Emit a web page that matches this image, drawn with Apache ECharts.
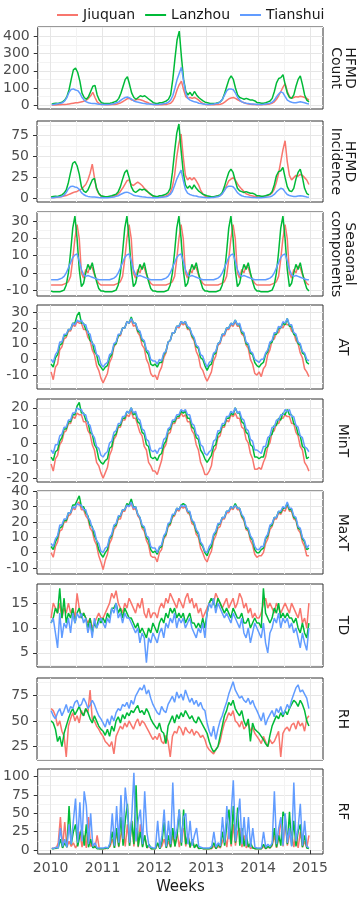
<!DOCTYPE html>
<html>
<head>
<meta charset="utf-8">
<script src="https://cdn.jsdelivr.net/npm/echarts@6/dist/echarts.min.js"></script>
<style>
html,body{margin:0;padding:0;background:#fff;}
#chart{width:358px;height:898px;}
</style>
</head>
<body>
<div id="chart"></div>
<script>
const cities = ["Jiuquan", "Lanzhou", "Tianshui"];
const cityColors = ["#F8766D", "#00BA38", "#619CFF"];

// weekly series at half-month steps
const semiX = [];
for (let i = 0; i < 120; i++) semiX.push(2010 + (i + 0.5) / 24);

const yearTicks = [2010, 2011, 2012, 2013, 2014, 2015];
const halfYears = [2010.5, 2011.5, 2012.5, 2013.5, 2014.5];

// HFMD count
const countJiuquan = [
  2,2,2,3,3,4,5,6,8,10,12,14,15,18,20,25,30,40,55,75,45,20,10,5,
  4,3,3,3,4,5,6,10,15,22,30,38,40,30,28,32,35,32,28,22,18,12,8,5,
  3,3,3,3,4,5,8,12,25,50,90,120,140,90,50,40,45,40,45,38,30,18,10,5,
  3,3,3,3,4,5,6,10,18,28,38,42,45,40,32,25,20,15,10,8,6,5,4,3,
  3,3,4,5,6,8,12,20,35,55,80,105,125,80,50,40,45,50,48,52,50,45,40,30];
const countLanzhou = [
  8,10,12,10,15,20,30,50,90,150,205,215,190,140,70,45,35,50,80,110,115,60,30,15,
  12,10,10,12,15,20,25,40,70,110,150,165,120,70,45,35,45,55,50,55,45,35,25,15,
  12,10,15,15,20,25,35,60,150,270,380,430,280,150,80,60,75,55,80,60,45,35,25,18,
  15,12,10,10,12,15,20,35,70,110,150,170,150,100,60,45,40,35,40,35,30,30,25,15,
  15,12,12,15,20,25,40,80,130,155,160,178,120,70,45,40,60,110,150,170,120,60,30,20];
const countTianshui = [
  5,5,8,10,12,15,25,45,75,92,95,88,85,70,45,30,20,15,12,10,10,8,6,5,
  5,5,5,6,8,10,15,20,30,38,45,48,42,35,25,20,18,15,12,10,8,7,6,5,
  5,5,6,8,10,12,18,30,55,100,150,185,220,140,70,40,30,25,20,18,12,10,8,6,
  5,5,6,7,10,12,20,35,60,85,95,95,90,70,45,30,20,15,12,10,8,7,6,5,
  5,5,6,8,10,12,18,30,50,65,78,72,50,30,22,18,15,15,18,20,18,15,10,8];

// HFMD incidence
const incJiuquan = [
  1.1,1.1,1.1,1.7,1.7,2.2,2.8,3.3,4.4,5.5,6.6,7.7,8.3,9.9,11,13.8,16.5,22,30,41,25,11,5.5,2.8,
  2.2,1.7,1.7,1.7,2.2,2.8,3.3,5.5,8.3,12,16.5,21,22,16.5,15.4,17.6,19.3,17.6,15.4,12,9.9,6.6,4.4,2.8,
  1.7,1.7,1.7,1.7,2.2,2.8,4.4,6.6,13.8,27.5,49.5,66,77,49.5,27.5,22,24.8,22,24.8,21,16.5,9.9,5.5,2.8,
  1.7,1.7,1.7,1.7,2.2,2.8,3.3,5.5,9.9,15.4,21,23,24.8,22,17.6,13.8,11,8.3,5.5,4.4,3.3,2.8,2.2,1.7,
  1.7,1.7,2.2,2.8,3.3,4.4,6.6,11,19.3,30,44,58,69,44,27.5,22,24.8,27.5,26.4,28.6,27.5,24.8,22,16.5];
const incLanzhou = [
  1.6,2.1,2.5,2.1,3.1,4.1,6.2,10,19,31,42,44,39,29,14,9,7,10,16,22,24,12,6,3,
  2.5,2,2,2.5,3,4,5,8,14,23,31,34,25,14,9,7,9,11,10,11,9,7,5,3,
  2.5,2,3,3,4,5,7,12,31,56,78,89,58,31,16,12,15,11,16,12,9,7,5,4,
  3,2.5,2,2,2.5,3,4,7,14,23,31,35,31,21,12,9,8,7,8,7,6,6,5,3,
  3,2.5,2.5,3,4,5,8,16,27,32,33,37,25,14,9,8,12,23,31,35,25,12,6,4];
const incTianshui = [
  0.8,0.8,1.2,1.5,1.8,2.3,3.8,6.9,11.5,14.2,14.6,13.5,13,10.8,6.9,4.6,3.1,2.3,1.8,1.5,1.5,1.2,0.9,0.8,
  0.8,0.8,0.8,0.9,1.2,1.5,2.3,3.1,4.6,5.8,6.9,7.4,6.5,5.4,3.8,3.1,2.8,2.3,1.8,1.5,1.2,1.1,0.9,0.8,
  0.8,0.8,0.9,1.2,1.5,1.8,2.8,4.6,8.5,15.4,23,28.5,33.8,21.5,10.8,6.2,4.6,3.8,3.1,2.8,1.8,1.5,1.2,0.9,
  0.8,0.8,0.9,1.1,1.5,1.8,3.1,5.4,9.2,13.1,14.6,14.6,13.8,10.8,6.9,4.6,3.1,2.3,1.8,1.5,1.2,1.1,0.9,0.8,
  0.8,0.8,0.9,1.2,1.5,1.8,2.8,4.6,7.7,10,12,11.1,7.7,4.6,3.4,2.8,2.3,2.3,2.8,3.1,2.8,2.3,1.5,1.2];

// seasonal components
const seasJiuquan = [
  -7,-7,-7,-7,-7,-7,-6.5,-6,-5,-2,8,20,28,20,0,-3,2,0,4,3,-1,-4,-6,-7,
  -7,-7,-7,-7,-7,-7,-6.5,-6,-5,-2,8,20,28,20,0,-3,2,0,4,3,-1,-4,-6,-7,
  -7,-7,-7,-7,-7,-7,-6.5,-6,-5,-2,8,20,28,20,0,-3,2,0,4,3,-1,-4,-6,-7,
  -7,-7,-7,-7,-7,-7,-6.5,-6,-5,-2,8,20,28,20,0,-3,2,0,4,3,-1,-4,-6,-7,
  -7,-7,-7,-7,-7,-7,-6.5,-6,-5,-2,8,20,28,20,0,-3,2,0,4,3,-1,-4,-6,-7];
const seasLanzhou = [
  -10.5,-11,-11,-11,-11,-10.5,-10,-7,0,12,26,33,20,2,-8,-6,0,5,2,6,0,-5,-9,-10.5,
  -10.5,-11,-11,-11,-11,-10.5,-10,-7,0,12,26,33,20,2,-8,-6,0,5,2,6,0,-5,-9,-10.5,
  -10.5,-11,-11,-11,-11,-10.5,-10,-7,0,12,26,33,20,2,-8,-6,0,5,2,6,0,-5,-9,-10.5,
  -10.5,-11,-11,-11,-11,-10.5,-10,-7,0,12,26,33,20,2,-8,-6,0,5,2,6,0,-5,-9,-10.5,
  -10.5,-11,-11,-11,-11,-10.5,-10,-7,0,12,26,33,20,2,-8,-6,0,5,2,6,0,-5,-9,-10.5];
const seasTianshui = [
  -4,-4,-4,-4,-3.5,-3,-2,0,3,6,9,10.5,11,7,2,-1,-2,-1.5,-2,-2.5,-3,-3.5,-4,-4,
  -4,-4,-4,-4,-3.5,-3,-2,0,3,6,9,10.5,11,7,2,-1,-2,-1.5,-2,-2.5,-3,-3.5,-4,-4,
  -4,-4,-4,-4,-3.5,-3,-2,0,3,6,9,10.5,11,7,2,-1,-2,-1.5,-2,-2.5,-3,-3.5,-4,-4,
  -4,-4,-4,-4,-3.5,-3,-2,0,3,6,9,10.5,11,7,2,-1,-2,-1.5,-2,-2.5,-3,-3.5,-4,-4,
  -4,-4,-4,-4,-3.5,-3,-2,0,3,6,9,10.5,11,7,2,-1,-2,-1.5,-2,-2.5,-3,-3.5,-4,-4];

// AT
const atJiuquan = [
  -8,-13,-5,-3,6,8,13,14,18,18,22,21,24,23,23,19,19,14,12,6,3,-4,-7,-12,
  -15,-12,-9,-2,1,8,10,15,15,20,20,24,23,25,21,22,17,15,9,7,0,-3,-9,-11,
  -10,-13,-8,-5,1,4,11,12,17,17,21,20,23,22,23,19,19,14,12,5,2,-5,-7,-11,
  -14,-11,-8,-1,2,9,10,15,15,19,19,22,21,24,21,21,16,15,9,7,0,-3,-9,-10,
  -8,-11,-6,-4,3,6,12,13,17,17,21,20,23,22,22,18,17,12,10,4,1,-6,-8,-11];
const atLanzhou = [
  -3,-5,1,3,9,10,15,15,19,19,23,23,28,30,23,23,19,18,12,11,5,3,-3,-5,
  -7,-5,-4,1,3,9,10,15,16,20,20,24,23,27,23,23,18,17,12,11,5,3,-3,-4,
  -3,-5,-2,-2,3,5,11,12,17,17,21,21,24,23,24,20,20,15,13,8,7,1,0,-4,
  -7,-4,-3,3,4,10,11,16,16,20,20,23,22,25,22,22,17,16,10,9,4,3,-2,-4,
  -5,-3,-2,3,5,10,11,16,16,20,20,23,22,26,21,21,16,15,10,9,4,3,-2,-3];
const atTianshui = [
  0,-2,3,5,11,11,16,16,19,19,23,22,25,24,25,22,22,17,16,10,9,3,2,-3,
  -5,-3,-2,3,4,10,11,16,16,20,20,24,23,26,23,23,19,18,13,12,6,5,0,-1,
  -1,-3,0,-1,4,5,11,12,17,17,21,21,24,23,24,21,20,16,14,9,8,3,2,-2,
  -5,-2,-1,4,5,10,11,16,16,20,20,23,22,25,22,23,18,17,11,10,5,4,0,-1,
  -2,0,0,4,6,11,12,17,17,21,20,24,23,26,22,22,17,16,11,10,5,4,0,-1];

// MinT
const minJiuquan = [
  -12,-16,-9,-7,-1,1,6,7,11,11,15,14,17,16,16,12,12,7,5,-1,-4,-11,-13,-17,
  -20,-17,-14,-7,-4,2,4,9,9,13,13,16,15,18,14,14,10,6,4,-2,-4,-11,-13,-16,
  -16,-18,-14,-10,-3,-1,5,6,11,11,14,14,17,15,16,12,12,7,5,-1,-4,-11,-14,-18,
  -18,-16,-13,-5,-3,3,4,9,9,13,12,16,15,17,14,14,9,8,2,0,-6,-9,-15,-15,
  -14,-15,-11,-8,-2,0,6,7,11,11,14,14,16,15,15,11,11,6,4,-2,-4,-11,-13,-16];
const minLanzhou = [
  -8,-10,-5,-4,1,3,8,8,12,12,16,16,21,23,17,17,13,12,6,5,-1,-3,-9,-11,
  -12,-10,-9,-3,-2,4,5,10,10,14,14,18,17,20,16,17,12,11,6,5,-1,-2,-8,-9,
  -8,-10,-7,-6,-1,1,7,8,12,12,15,15,18,17,18,14,14,9,8,3,2,-4,-6,-9,
  -11,-9,-7,-2,-1,5,6,10,10,14,14,17,16,20,17,17,12,11,6,5,-1,-2,-8,-8,
  -9,-8,-8,-3,-2,4,5,10,10,14,13,17,16,19,16,16,11,10,5,4,-2,-3,-9,-8];
const minTianshui = [
  -4,-6,-1,-1,4,5,9,9,13,13,17,17,20,19,19,16,16,11,10,5,3,-2,-3,-7,
  -8,-6,-5,0,1,6,7,11,11,15,15,18,17,20,17,18,14,13,8,7,2,1,-4,-5,
  -4,-6,-3,-3,2,3,8,9,13,13,16,16,19,18,19,16,16,11,10,5,4,-1,-2,-6,
  -7,-5,-4,1,2,7,7,11,11,15,15,18,17,20,17,18,14,13,8,7,2,1,-4,-4,
  -5,-6,-2,-2,3,4,9,9,13,13,16,16,19,18,19,15,15,10,9,4,3,-2,-3,-5];

// MaxT
const maxJiuquan = [
  0,-3,4,7,14,15,20,20,24,25,29,28,32,33,28,28,24,22,16,14,8,5,-2,-6,
  -11,-5,-1,6,9,15,17,22,22,27,27,31,30,32,28,29,24,22,16,14,8,5,-2,-3,
  -3,-6,0,2,9,11,17,18,23,24,28,27,30,29,30,26,25,19,18,12,10,3,0,-4,
  -6,-2,1,8,11,16,17,22,22,26,26,29,28,31,28,28,23,21,15,14,8,5,-1,-3,
  -2,-2,0,6,9,15,17,22,22,26,25,28,27,31,27,27,22,21,15,13,7,4,-2,-2];
const maxLanzhou = [
  4,2,7,10,16,17,21,21,26,26,31,31,34,37,30,30,26,24,18,17,11,8,2,-1,
  -3,0,2,9,11,17,18,23,24,28,28,32,31,35,30,30,25,23,17,16,10,8,2,0,
  1,-1,3,4,10,12,18,19,24,25,29,28,31,32,31,27,26,21,19,14,12,6,4,0,
  -2,2,4,11,13,18,19,23,23,27,27,30,29,32,29,29,24,22,16,15,10,8,2,0,
  0,2,3,9,11,17,18,23,23,27,26,29,29,32,28,28,23,22,16,15,9,7,2,3];
const maxTianshui = [
  6,4,9,11,18,18,22,22,26,26,30,29,32,31,31,28,28,23,21,16,14,8,6,1,
  0,3,4,10,12,18,19,24,24,28,28,31,30,33,29,30,25,23,18,17,11,10,4,3,
  3,0,4,5,11,13,19,20,25,25,29,28,31,30,31,27,27,21,20,15,13,7,5,1,
  0,4,6,12,14,19,19,23,23,27,27,30,29,31,29,29,25,23,17,16,11,9,4,2,
  2,4,4,10,12,18,19,23,23,27,27,30,29,33,29,29,24,23,17,16,10,8,3,5];

// TD
const tdJiuquan = [
  12,15,14,13,15,12,14,13,15,13,14,12,17,14,12,13,12,11,12,10,11,12,13,12,
  12,13,14,15,17,16,17.5,15,14,13,15,14,16,15,14,13,15,14,16,13,12,14,12,13,
  13,12,14,15,14,16,15,17,16,15,14,16,15,14,16,17,15,16,14,15,13,14,12,13,
  14,15,16,15,17,16,15,14,15,16,14,15,16,14,15,17,16,14,15,13,14,12,13,12,
  12,13,15,16,14,15,14,13,15,14,13,14,15,14,13,15,14,13,12,14,11,12,10,15];
const tdLanzhou = [
  11,12,14,13,18,12,16,11,13,12,14,11,13,14,12,13,12,10,12,9,11,10,12,11,
  12,11,13,12,14,14,15,13,14,12,14,13,12,12,11,10,11,9,10,9,8,10,9,11,
  10,9,11,12,11,13,12,14,13,14,12,13,12,13,11,12,13,11,11,10,11,10,12,10,
  13,15,16,15,14,16,15,14,13,14,13,12,14,13,12,12,13,11,11,12,10,11,12,11,
  11,10,18,13,12,11,12,14,13,15,12,13,12,13,12,12,11,12,10,9,11,9,8,11];
const tdTianshui = [
  11,12,9,6,13,8,11,10,12,9,13,11,13,12,13,11,12,9,11,8,12,10,11,12,
  11,10,12,11,14,13,15,12,13,11,13,12,12,11,10,9,10,7,9,8,3,8,7,9,
  8,7,9,10,8,11,10,12,11,13,10,12,11,12,10,11,12,10,9,8,10,9,11,8,
  13,15,14,16,13,15,14,13,12,13,12,11,13,12,11,10,12,9,8,10,7,9,11,10,
  9,8,11,7,5,9,10,12,11,13,10,12,11,12,10,11,9,10,8,6,9,7,5.5,10];

// RH
const rhJiuquan = [
  62,60,55,45,50,40,35,15,45,52,58,50,55,48,60,55,62,58,80,52,50,45,42,38,
  35,30,28,25,30,18,35,40,45,42,48,44,50,46,42,48,52,45,50,48,44,40,36,32,
  35,32,38,30,28,36,30,15,35,40,38,45,42,36,44,40,38,42,36,40,38,34,36,32,
  25,22,20,18,22,25,30,40,48,52,58,55,60,50,48,44,50,42,45,48,40,44,38,35,
  32,28,35,30,25,32,28,30,35,40,15,38,42,44,40,46,48,42,50,45,48,40,52,55];
const rhLanzhou = [
  50,48,42,30,35,25,38,45,52,58,62,56,60,64,58,55,62,58,52,48,55,50,45,42,
  40,36,42,35,45,40,50,54,48,56,52,58,55,60,58,62,65,58,60,56,62,58,52,48,
  45,42,48,40,38,28,45,50,55,48,56,52,58,54,60,56,52,55,50,48,54,50,46,42,
  38,30,24,20,22,25,35,45,55,60,68,65,70,62,58,55,60,50,45,52,30,48,42,40,
  38,35,32,28,25,36,45,50,55,52,58,54,60,56,62,66,70,68,64,70,66,60,50,45];
const rhTianshui = [
  60,55,52,58,62,55,60,66,58,64,62,68,70,64,66,72,68,62,65,70,66,60,55,52,
  48,44,52,46,55,50,58,62,60,66,64,68,62,70,66,74,78,82,80,85,76,80,72,66,
  62,58,56,64,60,58,66,70,74,68,78,72,76,70,80,74,68,72,66,70,64,68,62,60,
  48,40,35,45,32,42,50,55,62,68,76,82,88,80,76,72,74,70,68,72,66,70,64,60,
  55,50,58,46,52,56,60,54,62,58,64,56,60,66,62,70,76,82,85,78,80,76,72,62];

// RF
const rfJiuquan = [
  2,3,2,10,45,3,38,4,12,5,10,3,8,25,4,20,3,45,5,8,3,20,2,2,
  2,2,3,5,15,3,25,4,20,30,5,35,6,40,5,30,4,35,5,20,3,5,2,2,
  2,8,2,6,15,3,12,4,20,5,25,4,20,30,5,22,3,15,4,6,2,3,2,2,
  2,2,2,6,2,5,3,12,20,4,30,5,35,6,25,30,4,20,3,8,2,4,2,2,
  2,2,5,2,4,3,6,20,3,15,43,5,40,6,20,25,4,20,3,25,4,12,3,20];
const rfLanzhou = [
  2,2,3,3,15,3,10,4,60,8,25,35,5,20,30,6,35,4,15,3,5,2,2,2,
  2,3,2,8,25,3,30,5,45,6,40,63,6,40,8,88,5,25,4,20,3,8,2,2,
  2,10,2,12,38,3,20,4,30,5,20,55,6,55,8,20,4,15,3,8,2,3,2,2,
  2,2,3,10,2,8,4,25,6,35,55,8,60,10,58,6,30,5,20,4,10,3,2,2,
  2,2,8,2,5,3,8,30,4,20,6,52,45,8,52,6,40,5,25,35,4,20,3,2];
const rfTianshui = [
  3,2,4,3,30,5,15,4,35,8,40,70,10,65,12,80,60,8,50,5,10,3,3,3,
  3,4,3,10,50,6,60,10,75,15,85,55,10,45,105,12,40,55,8,80,25,5,4,3,
  3,40,3,20,55,5,40,8,92,15,30,55,10,45,50,8,40,6,20,30,5,4,3,3,
  3,3,5,25,4,10,6,45,10,60,15,50,95,12,40,70,8,45,6,45,4,30,4,3,
  3,3,25,4,8,5,10,80,8,30,45,6,50,10,30,5,92,12,30,63,6,40,5,3];

// y ticks per panel
const ticksCount = [0, 100, 200, 300, 400], minorCount = [50, 150, 250, 350, 450];
const ticksInc = [0, 25, 50, 75], minorInc = [12.5, 37.5, 62.5, 87.5];
const ticksSeas = [-10, 0, 10, 20, 30], minorSeas = [-5, 5, 15, 25, 35];
const ticksAT = [-10, 0, 10, 20, 30], minorAT = [-15, -5, 5, 15, 25];
const ticksMin = [-20, -10, 0, 10, 20], minorMin = [-15, -5, 5, 15];
const ticksMax = [-10, 0, 10, 20, 30, 40], minorMax = [-5, 5, 15, 25, 35];
const ticksTD = [5, 10, 15], minorTD = [2.5, 7.5, 12.5, 17.5];
const ticksRH = [25, 50, 75], minorRH = [12.5, 37.5, 62.5, 87.5];
const ticksRF = [0, 25, 50, 75, 100], minorRF = [12.5, 37.5, 62.5, 87.5];

const panels = [
  {label: "HFMD\nCount", data: [countJiuquan, countLanzhou, countTianshui], min: -21.6, max: 453.6, ticks: ticksCount, minor: minorCount},
  {label: "HFMD\nIncidence", data: [incJiuquan, incLanzhou, incTianshui], min: -4.4, max: 92.6, ticks: ticksInc, minor: minorInc},
  {label: "Seasonal\ncomponents", data: [seasJiuquan, seasLanzhou, seasTianshui], min: -13.4, max: 35.4, ticks: ticksSeas, minor: minorSeas},
  {label: "AT", data: [atJiuquan, atLanzhou, atTianshui], min: -18.9, max: 34.6, ticks: ticksAT, minor: minorAT},
  {label: "MinT", data: [minJiuquan, minLanzhou, minTianshui], min: -22.2, max: 25.0, ticks: ticksMin, minor: minorMin},
  {label: "MaxT", data: [maxJiuquan, maxLanzhou, maxTianshui], min: -13.9, max: 40.2, ticks: ticksMax, minor: minorMax},
  {label: "TD", data: [tdJiuquan, tdLanzhou, tdTianshui], min: 2.14, max: 18.86, ticks: ticksTD, minor: minorTD},
  {label: "RH", data: [rhJiuquan, rhLanzhou, rhTianshui], min: 12.1, max: 91.6, ticks: ticksRH, minor: minorRH},
  {label: "RF", data: [rfJiuquan, rfLanzhou, rfTianshui], min: -5.25, max: 110.25, ticks: ticksRF, minor: minorRF}
];

const panelTop = [27, 121, 212, 305, 399, 491, 584, 678, 769];
const panelBottom = [109, 202, 296, 389, 482, 574, 667, 760, 854];

const FONT = "DejaVu Sans";
const majorGrid = "#e6e6e6", minorGrid = "#f3f3f3";

const grids = [], xAxes = [], yAxes = [], series = [], graphics = [];
const last = panels.length - 1;

panels.forEach((p, i) => {
    grids.push({
        left: 37, width: 286, top: panelTop[i], height: panelBottom[i] - panelTop[i],
        show: true, borderColor: "#333333", borderWidth: 1, backgroundColor: "transparent"
    });
    // major x
    xAxes.push({
        gridIndex: i, type: "value", min: 2009.75, max: 2015.25,
        axisLine: {show: false},
        axisTick: {show: i === last, length: 4, lineStyle: {color: "#333333"}, customValues: yearTicks},
        axisLabel: {show: i === last, customValues: yearTicks, margin: 7, color: "#4d4d4d",
            fontFamily: FONT, fontSize: 14, formatter: v => String(v)},
        splitLine: {show: true, lineStyle: {color: majorGrid, width: 1}},
        name: i === last ? "Weeks" : "", nameLocation: "middle", nameGap: 26,
        nameTextStyle: {fontFamily: FONT, fontSize: 15, color: "#1a1a1a"}
    });
    // minor x
    xAxes.push({
        gridIndex: i, type: "value", min: 2009.75, max: 2015.25,
        axisLine: {show: false}, axisLabel: {show: false},
        axisTick: {show: false, customValues: halfYears},
        splitLine: {show: true, lineStyle: {color: minorGrid, width: 1}}
    });
    yAxes.push({
        gridIndex: i, type: "value", min: p.min, max: p.max,
        axisLine: {show: false},
        axisTick: {show: true, length: 4, lineStyle: {color: "#333333"}, customValues: p.ticks},
        axisLabel: {customValues: p.ticks, margin: 8, color: "#4d4d4d", fontFamily: FONT, fontSize: 14},
        splitLine: {show: true, lineStyle: {color: majorGrid, width: 1}}
    });
    yAxes.push({
        gridIndex: i, type: "value", min: p.min, max: p.max,
        axisLine: {show: false}, axisLabel: {show: false},
        axisTick: {show: false, customValues: p.minor},
        splitLine: {show: true, lineStyle: {color: minorGrid, width: 1}}
    });
    p.data.forEach((vals, c) => {
        series.push({
            name: cities[c], type: "line", xAxisIndex: i * 2, yAxisIndex: i * 2,
            data: vals.map((v, k) => [semiX[k], v]),
            showSymbol: false, symbol: "none", smooth: false,
            lineStyle: {color: cityColors[c], width: 1.5}, itemStyle: {color: cityColors[c]},
            z: 3 + c, animation: false
        });
    });
    graphics.push({
        type: "text", x: 343, y: (panelTop[i] + panelBottom[i]) / 2, rotation: -Math.PI / 2,
        style: {text: p.label, fill: "#1a1a1a", font: "14px '" + FONT + "'",
            textAlign: "center", textVerticalAlign: "middle", align: "center", verticalAlign: "middle", lineHeight: 14}
    });
});

const chart = echarts.init(document.getElementById("chart"), null, {renderer: "canvas"});
chart.setOption({
    backgroundColor: "#ffffff",
    animation: false,
    legend: {
        data: cities, top: 3, left: 52, icon: "rect", itemWidth: 21, itemHeight: 2, itemGap: 10,
        textStyle: {fontFamily: FONT, fontSize: 14, color: "#1a1a1a"}
    },
    grid: grids,
    xAxis: xAxes,
    yAxis: yAxes,
    series: series,
    graphic: graphics
});
</script>
</body>
</html>
